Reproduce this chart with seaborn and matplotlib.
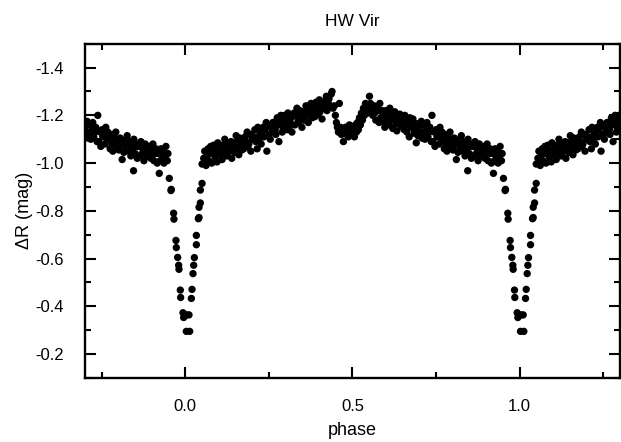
import numpy as np
import pandas as pd
import matplotlib
matplotlib.use("Agg")
import matplotlib.pyplot as plt
from matplotlib.ticker import MultipleLocator, FixedLocator
import seaborn as sns

# ---------------- data (phase in one cycle, delta R mag) ----------------
ecl1_phase = [0.845, 0.922, 0.952, 0.957, 0.958, 0.965, 0.966, 0.972, 0.973, 0.977,
              0.980, 0.981, 0.985, 0.986, 0.993, 0.995, 0.003, 0.005, 0.011, 0.013,
              0.018, 0.020, 0.023, 0.025, 0.027, 0.033, 0.033, 0.039, 0.041, 0.041,
              0.045, 0.045, 0.050, 0.050, 0.060]
ecl1_mag = [-0.968, -0.957, -0.936, -0.885, -0.890, -0.790, -0.765, -0.676, -0.646, -0.605,
            -0.572, -0.555, -0.468, -0.437, -0.373, -0.353, -0.295, -0.364, -0.364, -0.295,
            -0.433, -0.471, -0.537, -0.572, -0.604, -0.658, -0.697, -0.767, -0.772, -0.815,
            -0.833, -0.887, -0.915, -0.996, -1.005]

rise_phase = [
    0.055, 0.058, 0.062, 0.064, 0.068, 0.070, 0.074, 0.076, 0.079, 0.083,
    0.085, 0.089, 0.091, 0.095, 0.097, 0.101, 0.103, 0.106, 0.110, 0.112,
    0.116, 0.118, 0.121, 0.125, 0.127, 0.131, 0.133, 0.137, 0.139, 0.142,
    0.146, 0.148, 0.152, 0.154, 0.158, 0.160, 0.163, 0.167, 0.169, 0.173,
    0.175, 0.179, 0.181, 0.185, 0.187, 0.190, 0.194, 0.196, 0.200, 0.202,
    0.206, 0.208, 0.211, 0.215, 0.217, 0.221, 0.223, 0.227, 0.229, 0.233,
    0.235, 0.238, 0.242, 0.244, 0.248, 0.250, 0.254, 0.256, 0.260, 0.262,
    0.265, 0.269, 0.271, 0.275, 0.277, 0.280, 0.284, 0.286, 0.290, 0.292,
    0.296, 0.298, 0.301, 0.305, 0.307, 0.311, 0.313, 0.317, 0.319, 0.322,
    0.326, 0.328, 0.332, 0.334, 0.338, 0.340, 0.343, 0.347, 0.349, 0.353,
    0.355, 0.359, 0.361, 0.364, 0.368, 0.370, 0.374, 0.376, 0.380, 0.382,
    0.386, 0.388, 0.391, 0.395, 0.397, 0.401, 0.403, 0.407, 0.409, 0.412,
    0.416, 0.418, 0.422, 0.424, 0.428, 0.430, 0.433, 0.437, 0.439, 0.442]
rise_mag = [
    -1.02, -1.05, -0.99, -1.03, -1.06, -1.01, -1.04, -1.07, -1.00, -1.05,
    -1.075, -1.025, -1.055, -1.005, -1.085, -1.045, -1.035, -1.065, -1.015, -1.075,
    -1.04, -1.10, -1.06, -1.03, -1.08, -1.07, -1.05, -1.09, -1.02, -1.07,
    -1.085, -1.045, -1.115, -1.065, -1.095, -1.035, -1.105, -1.075, -1.055, -1.085,
    -1.06, -1.11, -1.09, -1.13, -1.07, -1.08, -1.12, -1.05, -1.10, -1.11,
    -1.11, -1.14, -1.09, -1.06, -1.15, -1.10, -1.12, -1.08, -1.13, -1.15,
    -1.11, -1.14, -1.17, -1.05, -1.16, -1.12, -1.10, -1.15, -1.13, -1.17,
    -1.17, -1.14, -1.12, -1.19, -1.16, -1.09, -1.18, -1.20, -1.13, -1.15,
    -1.16, -1.20, -1.18, -1.14, -1.21, -1.15, -1.17, -1.19, -1.13, -1.20,
    -1.21, -1.16, -1.20, -1.23, -1.18, -1.17, -1.22, -1.19, -1.15, -1.20,
    -1.18, -1.22, -1.24, -1.20, -1.17, -1.23, -1.21, -1.25, -1.19, -1.22,
    -1.235, -1.195, -1.255, -1.225, -1.205, -1.265, -1.215, -1.245, -1.185, -1.235,
    -1.23, -1.26, -1.28, -1.22, -1.25, -1.27, -1.24, -1.29, -1.30, -1.23]

ecl2_phase = [
    0.446, 0.449, 0.452, 0.455, 0.458, 0.461, 0.464, 0.467, 0.470, 0.473,
    0.476, 0.479, 0.482, 0.485, 0.488, 0.491, 0.494, 0.497, 0.500, 0.503,
    0.506, 0.509, 0.512, 0.515, 0.518, 0.521, 0.524, 0.527, 0.530, 0.533,
    0.536, 0.539, 0.542, 0.545, 0.548, 0.551, 0.554, 0.557]
ecl2_mag = [
    -1.24, -1.20, -1.17, -1.15, -1.13, -1.25, -1.15, -1.12, -1.14, -1.09,
    -1.13, -1.15, -1.12, -1.14, -1.11, -1.16, -1.13, -1.15, -1.12, -1.14,
    -1.11, -1.16, -1.13, -1.17, -1.14, -1.19, -1.16, -1.21, -1.18, -1.23,
    -1.20, -1.25, -1.22, -1.24, -1.21, -1.28, -1.25, -1.23]

fall_phase = [
    0.561, 0.565, 0.567, 0.570, 0.574, 0.576, 0.580, 0.582, 0.585, 0.589,
    0.591, 0.595, 0.597, 0.600, 0.604, 0.606, 0.610, 0.612, 0.616, 0.618,
    0.621, 0.625, 0.627, 0.631, 0.633, 0.636, 0.640, 0.642, 0.646, 0.648,
    0.651, 0.655, 0.657, 0.661, 0.663, 0.666, 0.670, 0.672, 0.676, 0.678,
    0.681, 0.685, 0.687, 0.691, 0.693, 0.696, 0.700, 0.702, 0.706, 0.708,
    0.711, 0.715, 0.717, 0.721, 0.723, 0.726, 0.730, 0.732, 0.736, 0.738,
    0.741, 0.745, 0.747, 0.751, 0.753, 0.756, 0.760, 0.762, 0.766, 0.768,
    0.771, 0.775, 0.777, 0.781, 0.783, 0.786, 0.790, 0.792, 0.796, 0.798,
    0.801, 0.805, 0.807, 0.811, 0.813, 0.816, 0.820, 0.822, 0.826, 0.828,
    0.831, 0.835, 0.837, 0.841, 0.843, 0.846, 0.850, 0.852, 0.856, 0.858,
    0.861, 0.865, 0.867, 0.871, 0.873, 0.876, 0.880, 0.882, 0.886, 0.888,
    0.891, 0.895, 0.897, 0.901, 0.903, 0.906, 0.910, 0.912, 0.916, 0.918,
    0.921, 0.925, 0.927, 0.931, 0.933, 0.936, 0.940, 0.942, 0.946, 0.948]
fall_mag = [
    -1.20, -1.24, -1.21, -1.18, -1.23, -1.22, -1.17, -1.25, -1.19, -1.22,
    -1.21, -1.17, -1.15, -1.22, -1.19, -1.20, -1.16, -1.23, -1.18, -1.21,
    -1.145, -1.185, -1.215, -1.165, -1.135, -1.195, -1.175, -1.205, -1.155, -1.185,
    -1.17, -1.14, -1.20, -1.16, -1.13, -1.18, -1.11, -1.19, -1.15, -1.17,
    -1.185, -1.125, -1.145, -1.085, -1.165, -1.115, -1.155, -1.135, -1.175, -1.105,
    -1.12, -1.16, -1.10, -1.14, -1.17, -1.11, -1.13, -1.15, -1.09, -1.20,
    -1.09, -1.13, -1.07, -1.14, -1.11, -1.12, -1.08, -1.15, -1.10, -1.13,
    -1.10, -1.06, -1.12, -1.08, -1.05, -1.11, -1.09, -1.13, -1.07, -1.10,
    -1.055, -1.105, -1.075, -1.015, -1.095, -1.045, -1.085, -1.065, -1.115, -1.085,
    -1.05, -1.09, -1.03, -1.07, -1.06, -1.10, -1.04, -1.08, -1.02, -1.07,
    -1.07, -1.03, -1.09, -1.04, -1.06, -1.01, -1.08, -1.05, -1.03, -1.07,
    -1.03, -1.07, -1.02, -1.05, -1.08, -1.01, -1.04, -1.06, -1.00, -1.05,
    -1.04, -1.01, -1.06, -1.02, -1.05, -1.00, -1.03, -1.07, -1.01, -1.04]

x_major = [0.0, 0.5, 1.0]
x_labels = ["0.0", "0.5", "1.0"]
y_major = [-1.4, -1.2, -1.0, -0.8, -0.6, -0.4, -0.2]
y_labels = ["-1.4", "-1.2", "-1.0", "-0.8", "-0.6", "-0.4", "-0.2"]

# ---------------- build phased table (cycle shown from -0.3 to 1.3) ----------------
phase = np.array(ecl1_phase + rise_phase + ecl2_phase + fall_phase)
mag = np.array(ecl1_mag + rise_mag + ecl2_mag + fall_mag)
frames = []
for shift in (-1.0, 0.0, 1.0):
    frames.append(pd.DataFrame({"phase": phase + shift, "mag": mag}))
df = pd.concat(frames, ignore_index=True)
df = df[(df["phase"] >= -0.31) & (df["phase"] <= 1.31)]

# ---------------- plot ----------------
sns.set_theme(style="ticks")
plt.rcParams["font.family"] = ["Liberation Sans", "DejaVu Sans"]
plt.rcParams["text.color"] = "black"
plt.rcParams["axes.labelcolor"] = "black"
plt.rcParams["xtick.color"] = "black"
plt.rcParams["ytick.color"] = "black"

fig = plt.figure(figsize=(6.21, 4.42), dpi=100)
ax = fig.add_axes([0.137, 0.145, 0.861, 0.756])

sns.scatterplot(data=df, x="phase", y="mag", color="black", s=28,
                linewidth=0, edgecolor="none", ax=ax, legend=False)

ax.set_xlim(-0.3, 1.3)
ax.set_ylim(-0.1, -1.5)

ax.xaxis.set_major_locator(FixedLocator(x_major))
ax.set_xticklabels(x_labels)
ax.xaxis.set_minor_locator(MultipleLocator(0.25))
ax.yaxis.set_major_locator(FixedLocator(y_major))
ax.set_yticklabels(y_labels)
ax.yaxis.set_minor_locator(MultipleLocator(0.1))

ax.tick_params(which="both", direction="in", top=True, right=True,
               colors="black", labelcolor="black", width=1.5)
ax.tick_params(which="major", length=8, pad=15, labelsize=12)
ax.tick_params(which="minor", length=4.5)

for sp in ax.spines.values():
    sp.set_linewidth(1.7)
    sp.set_color("black")
    sp.set_visible(True)

ax.set_xlabel("phase", fontsize=13, labelpad=6, color="black")
ax.set_ylabel("ΔR (mag)", fontsize=13, labelpad=2, color="black")
ax.set_title("HW Vir", fontsize=12.5, pad=13, color="black")

fig.savefig("out.png", dpi=100)
